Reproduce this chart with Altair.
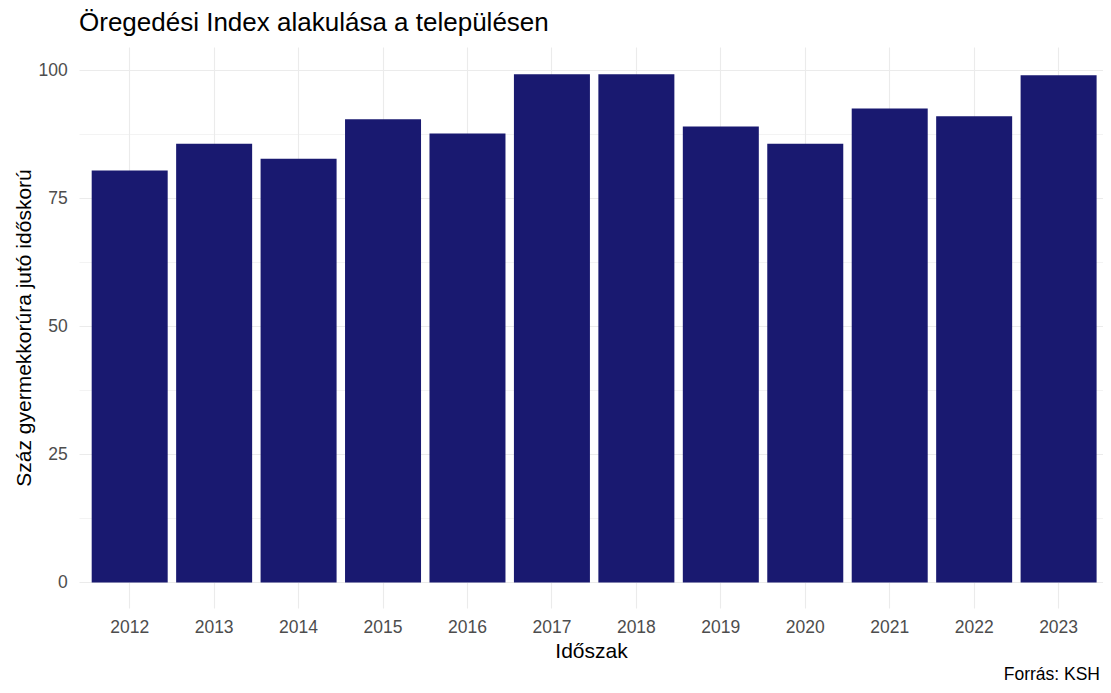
import altair as alt
import pandas as pd

years = ["2012", "2013", "2014", "2015", "2016", "2017", "2018", "2019", "2020", "2021", "2022", "2023"]
values = [80.4, 85.6, 82.7, 90.4, 87.6, 99.2, 99.2, 89.0, 85.6, 92.5, 91.0, 99.0]

df = pd.DataFrame({"year": years, "value": values})

W, H = 1024, 561
FONT = "Liberation Sans"

bars = alt.Chart(df).mark_bar(color="#191970").encode(
    x=alt.X("year:N", sort=years,
            scale=alt.Scale(paddingInner=0.1, paddingOuter=0.113, align=0.665),
            axis=alt.Axis(title="Időszak", labelAngle=0, bandPosition=0.5,
                          grid=True, gridColor="#ebebeb", gridWidth=1.1,
                          domain=False, ticks=False, labelColor="#4d4d4d",
                          labelFontSize=17.5, labelPadding=10, labelFont=FONT,
                          titleFont=FONT, titleFontSize=21, titleFontWeight="normal",
                          titleColor="#000000", titlePadding=5)),
    y=alt.Y("value:Q",
            scale=alt.Scale(domain=[-5.0, 104.5], nice=False, zero=False),
            axis=alt.Axis(title="Száz gyermekkorúra jutó időskorú",
                          values=[0, 12.5, 25, 37.5, 50, 62.5, 75, 87.5, 100],
                          labelExpr="datum.value % 25 == 0 ? datum.label : ''",
                          grid=True, gridColor="#ebebeb",
                          gridWidth={"condition": {"test": "datum.value % 25 != 0", "value": 0.6}, "value": 1.1},
                          domain=False, ticks=False, labelColor="#4d4d4d",
                          labelFontSize=17.5, labelPadding=11.7, labelFont=FONT,
                          titleFont=FONT, titleFontSize=21, titleFontWeight="normal",
                          titleColor="#000000", titlePadding=4)),
    y2=alt.datum(0),
)

caption = alt.Chart(pd.DataFrame({"t": ["Forrás: KSH"]})).mark_text(
    align="right", baseline="alphabetic", fontSize=17.5, font=FONT, color="#000000"
).encode(text="t:N", x=alt.value(W - 3), y=alt.value(H + 72))

chart = alt.layer(bars, caption).properties(
    width=W, height=H,
    title=alt.TitleParams("Öregedési Index alakulása a településen", anchor="start",
                          frame="group",
                          font=FONT, fontSize=26, fontWeight="normal", color="#000000",
                          offset=11.5),
    autosize=alt.AutoSizeParams(type="none"),
    padding={"left": 71, "top": 39, "right": 0, "bottom": 77},
).configure(background="white").configure_view(strokeWidth=0)

chart.save("out.html", embed_options={"renderer": "svg", "actions": False})
